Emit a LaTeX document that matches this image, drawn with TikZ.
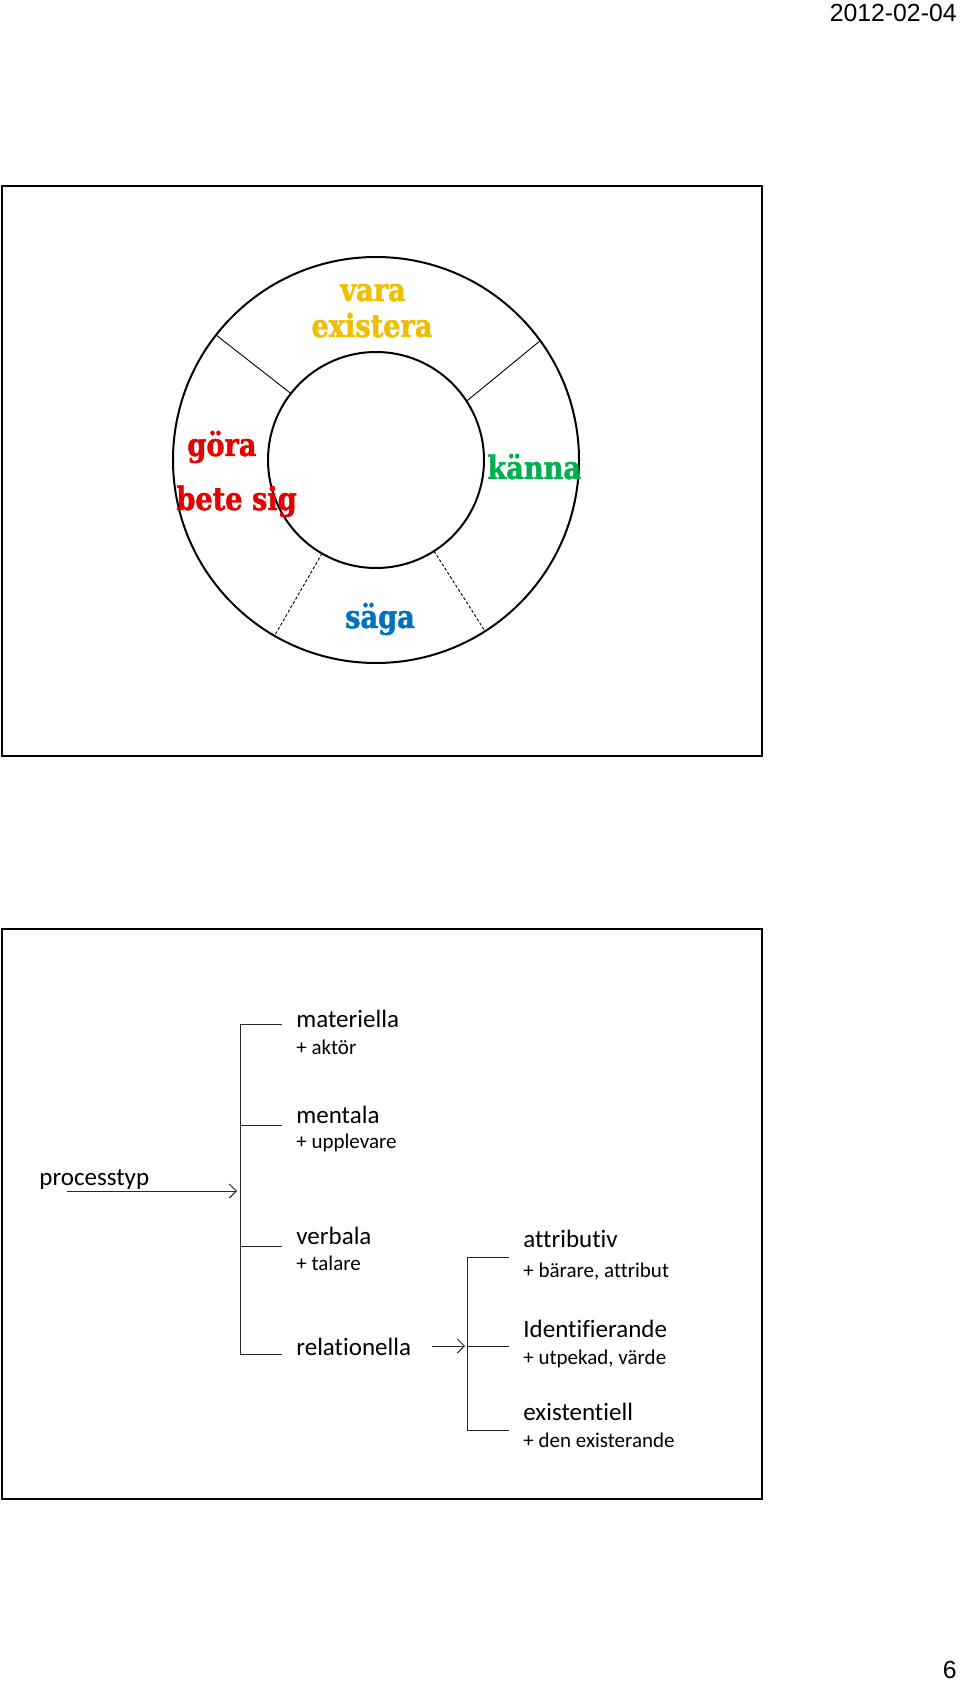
\documentclass[tikz,border=0pt]{standalone}
\usepackage{fontspec}
\setmainfont{Carlito}[Ligatures={NoCommon}]
\newfontfamily\slabfont[FakeStretch=0.85,BoldFeatures={FakeBold=1.4}]{DejaVu Serif}
\newfontfamily\datefont{Liberation Sans}
\usetikzlibrary{arrows.meta,calc}
\definecolor{cyellow}{RGB}{240,190,0}
\definecolor{cred}{RGB}{230,0,0}
\definecolor{cgreen}{RGB}{0,176,80}
\definecolor{cblue}{RGB}{0,112,192}
\definecolor{treeline}{RGB}{40,40,40}
\begin{document}
\begin{tikzpicture}[x=0.5pt,y=-0.5pt,
  frame/.style={draw=black,line width=1.1pt},
  ring/.style={draw=black,line width=1pt},
  spoke/.style={draw=black,line width=0.45pt},
  dspoke/.style={spoke,dash pattern=on 1.5pt off 1pt},
  verb/.style={font=\slabfont\bfseries\fontsize{16}{18}\selectfont,inner sep=0pt},
  mainlbl/.style={font=\fontsize{12.5}{14}\selectfont,inner sep=0pt,anchor=base west},
  sublbl/.style={font=\fontsize{10.5}{12}\selectfont,inner sep=0pt,anchor=base west},
  tree/.style={draw=treeline,line width=0.5pt},
  arr/.style={tree,-{Straight Barb[length=3.5pt,width=7pt]}},
  pagetxt/.style={font=\datefont\fontsize{12.4}{14}\selectfont,inner sep=0pt,anchor=base east}]
\useasboundingbox (0,0) rectangle (960,1684);
\fill[white] (0,0) rectangle (960,1684);
% header / footer
\node[pagetxt] (date) at (957,22) {2012-02-04};
\node[pagetxt] (page) at (957,1678) {6};

% ===== top frame: ring =====
\draw[frame] (2,186) rectangle (762,756);
\coordinate (c) at (376,460);
\draw[ring] (c) circle[radius=101.5pt];
\draw[ring] (c) circle[radius=54pt];
\draw[spoke] ($(c)+(142:54pt)$) -- ($(c)+(142:101.5pt)$);
\draw[spoke] ($(c)+(33:54pt)$) -- ($(c)+(36:101.5pt)$);
\draw[dspoke] ($(c)+(-120:54pt)$) -- ($(c)+(-120:101.5pt)$);
\draw[dspoke] ($(c)+(-57.5:54pt)$) -- ($(c)+(-57.5:101.5pt)$);

\node[verb,text=cyellow,anchor=base] (vara) at (373,301) {vara};
\node[verb,text=cyellow,anchor=base] (existera) at (372,337) {existera};
\node[verb,text=cred,anchor=base west] (gora) at (187,456) {göra};
\node[verb,text=cred,anchor=base west] (bete) at (176,510) {bete sig};
\node[verb,text=cgreen,anchor=base west] (kanna) at (487,479) {känna};
\node[verb,text=cblue,anchor=base] (saga) at (380,628) {säga};

% ===== bottom frame: tree =====
\draw[frame] (2,929) rectangle (762,1499);

\node[mainlbl] (proc) at (39,1185) {processtyp};
\coordinate (pa) at (67,1191);
\coordinate (pb) at (237,1191);

\coordinate (j1) at (240,1024);
\coordinate (j2) at (240,1125);
\coordinate (j3) at (240,1246);
\coordinate (j4) at (240,1354);
\coordinate (s1) at (282,1024);
\coordinate (s2) at (282,1125);
\coordinate (s3) at (282,1246);
\coordinate (s4) at (282,1354);
\draw[tree] (s1) -- (j1) -- (j4) -- (s4);
\draw[tree] (j2) -- (s2);
\draw[tree] (j3) -- (s3);
\draw[arr] (pa) -- (pb);

\node[mainlbl] (mat) at (296,1027) {materiella};
\node[sublbl] (akt) at (296,1054) {+ aktör};
\node[mainlbl] (men) at (296,1123) {mentala};
\node[sublbl] (upp) at (296,1148) {+ upplevare};
\node[mainlbl] (ver) at (296,1244) {verbala};
\node[sublbl] (tal) at (296,1270) {+ talare};
\node[mainlbl] (rel) at (296,1355) {relationella};

\coordinate (ra) at (432,1346);
\coordinate (rb) at (465,1346);
\coordinate (k1) at (467,1257);
\coordinate (k2) at (467,1346);
\coordinate (k3) at (467,1430);
\coordinate (t1) at (509,1257);
\coordinate (t2) at (509,1346);
\coordinate (t3) at (509,1430);
\draw[tree] (t1) -- (k1) -- (k3) -- (t3);
\draw[tree] (k2) -- (t2);
\draw[arr] (ra) -- (rb);

\node[mainlbl] (attr) at (523,1247) {attributiv};
\node[sublbl] (barare) at (523,1277) {+ bärare, attribut};
\node[mainlbl] (ident) at (523,1337) {Identifierande};
\node[sublbl] (utp) at (523,1364) {+ utpekad, värde};
\node[mainlbl] (exi) at (523,1420) {existentiell};
\node[sublbl] (den) at (523,1447) {+ den existerande};
\end{tikzpicture}
\end{document}
